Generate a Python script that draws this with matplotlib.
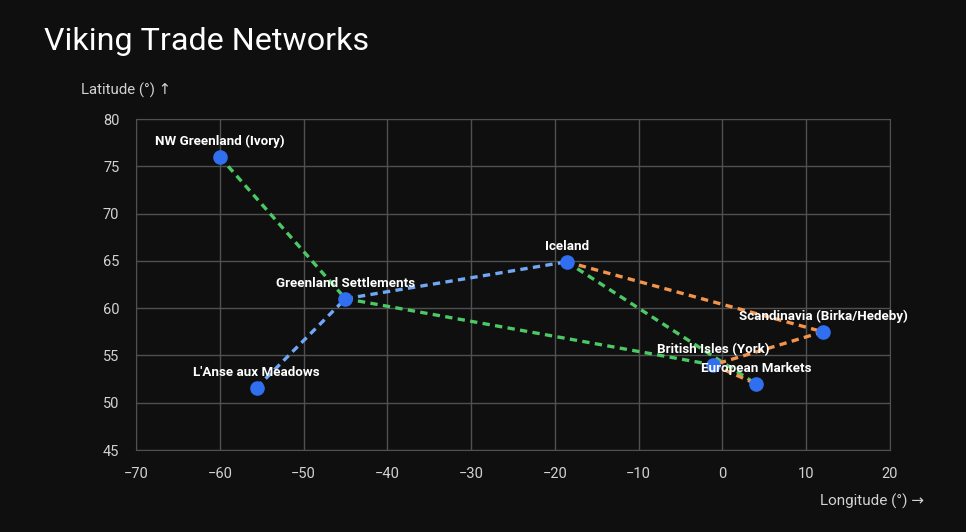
import matplotlib.pyplot as plt

# places: longitude, latitude
names = ["NW Greenland (Ivory)", "Greenland Settlements", "L'Anse aux Meadows",
         "Iceland", "Scandinavia (Birka/Hedeby)", "British Isles (York)", "European Markets"]
lon = [-60, -45, -55.6, -18.6, 12, -1.1, 4]
lat = [76, 61, 51.6, 64.9, 57.5, 54.0, 52.0]

# routes as index pairs, grouped by colour
blue_routes = [(2, 1), (1, 3)]
green_routes = [(0, 1), (1, 5), (3, 6)]
orange_routes = [(3, 4), (4, 5), (5, 6)]

xticks = [-70, -60, -50, -40, -30, -20, -10, 0, 10, 20]
yticks = [45, 50, 55, 60, 65, 70, 75, 80]

bg = "#0f0f0f"
plt.rcParams['font.family'] = ['Roboto', 'DejaVu Sans']

fig = plt.figure(figsize=(9.66, 5.32), dpi=100, facecolor=bg)
ax = fig.add_axes([0.1408, 0.1541, 0.9213 - 0.1408, 0.7763 - 0.1541], facecolor=bg)

for routes, col in [(blue_routes, "#70a8f4"), (green_routes, "#4cc865"), (orange_routes, "#f3944c")]:
    for a, b in routes:
        ax.plot([lon[a], lon[b]], [lat[a], lat[b]], color=col, lw=2.4,
                linestyle=(0, (2.2, 1.6)), zorder=2)

ax.plot(lon, lat, "o", color="#2f6ff0", markersize=9.5, zorder=3)
for n, x, y in zip(names, lon, lat):
    ax.annotate(n, (x, y), xytext=(0, 6.5), textcoords="offset points", ha="center",
                va="bottom", color="white", fontsize=9.6, fontweight="bold", zorder=4)

ax.set_xlim(-70, 20)
ax.set_ylim(45, 80)
ax.set_xticks(xticks)
ax.set_yticks(yticks)
ax.set_xticklabels([str(t).replace("-", "\u2212") for t in xticks])
ax.grid(True, color="#505050", lw=1)
ax.set_axisbelow(True)
for s in ax.spines.values():
    s.set_color("#505050")
ax.tick_params(colors="#d2d2d2", labelsize=10.5, length=0, pad=12)

fig.text(44 / 966, 1 - 42 / 532, "Viking Trade Networks", color="white",
         fontsize=23.2, va="center", ha="left")
fig.text(81 / 966, 1 - 90 / 532, "Latitude (°) \u2191", color="#d2d2d2",
         fontsize=10.8, va="center", ha="left")
fig.text(924 / 966, 1 - 501 / 532, "Longitude (°) \u2192", color="#d2d2d2",
         fontsize=11, va="center", ha="right")

fig.savefig("out.png", dpi=100, facecolor=bg)
